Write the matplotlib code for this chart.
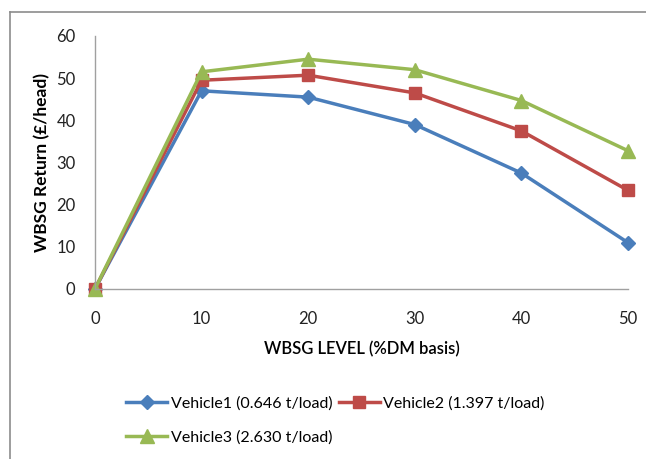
import matplotlib.pyplot as plt
from matplotlib.lines import Line2D

levels = [0, 10, 20, 30, 40, 50]
vehicle1 = [0, 47, 45.5, 39, 27.5, 11]
vehicle2 = [0, 49.5, 50.7, 46.5, 37.5, 23.4]
vehicle3 = [0, 51.5, 54.5, 52, 44.7, 32.8]
series_names = ['Vehicle1 (0.646 t/load)', 'Vehicle2 (1.397 t/load)', 'Vehicle3 (2.630 t/load)']

plt.rcParams['font.family'] = ['Lato', 'DejaVu Sans']

fig = plt.figure(figsize=(6.46, 4.59), dpi=100)
ax = fig.add_axes([0.147, 0.3704, 0.825, 0.5512])

h1, = ax.plot(levels, vehicle1, color='#4A7EBB', lw=2.5, marker='D', ms=7,
              label=series_names[0], clip_on=False)
h2, = ax.plot(levels, vehicle2, color='#BE4B48', lw=2.5, marker='s', ms=8,
              label=series_names[1], clip_on=False)
h3, = ax.plot(levels, vehicle3, color='#98B954', lw=2.5, marker='^', ms=10,
              label=series_names[2], clip_on=False)

ax.set_xlim(0, 50)
ax.set_ylim(0, 60)
ax.set_xticks(levels)
ax.set_yticks(range(0, 61, 10))
for s in ['top', 'right']:
    ax.spines[s].set_visible(False)
for s in ['left', 'bottom']:
    ax.spines[s].set_color('#A0A0A0')
    ax.spines[s].set_linewidth(1)
ax.tick_params(length=0, labelsize=12, colors='#222222')
ax.tick_params(axis='x', pad=16)
ax.tick_params(axis='y', pad=14)

ax.set_xlabel('WBSG LEVEL (%DM basis)', fontsize=12, fontweight='semibold', labelpad=10)
ax.set_ylabel('WBSG Return (£/head)', fontsize=12.5, fontweight='bold', labelpad=4)

# row-major order for a 2-column legend
fig.legend([h1, h3, h2], [series_names[0], series_names[2], series_names[1]],
           ncol=2, loc='upper left', bbox_to_anchor=(0.185, 0.15), frameon=False,
           fontsize=11.5, handlelength=2.6, handletextpad=0.2, columnspacing=0.4,
           labelspacing=1.2, borderaxespad=0)

# chart area border (clipped by the image edge on right/bottom)
fig.add_artist(Line2D([10 / 646, 10 / 646], [0, 1 - 12 / 459], color='#8C8C8C', lw=1.2))
fig.add_artist(Line2D([10 / 646, 1], [1 - 12 / 459, 1 - 12 / 459], color='#8C8C8C', lw=1.2))

fig.savefig('out.png', dpi=100)
